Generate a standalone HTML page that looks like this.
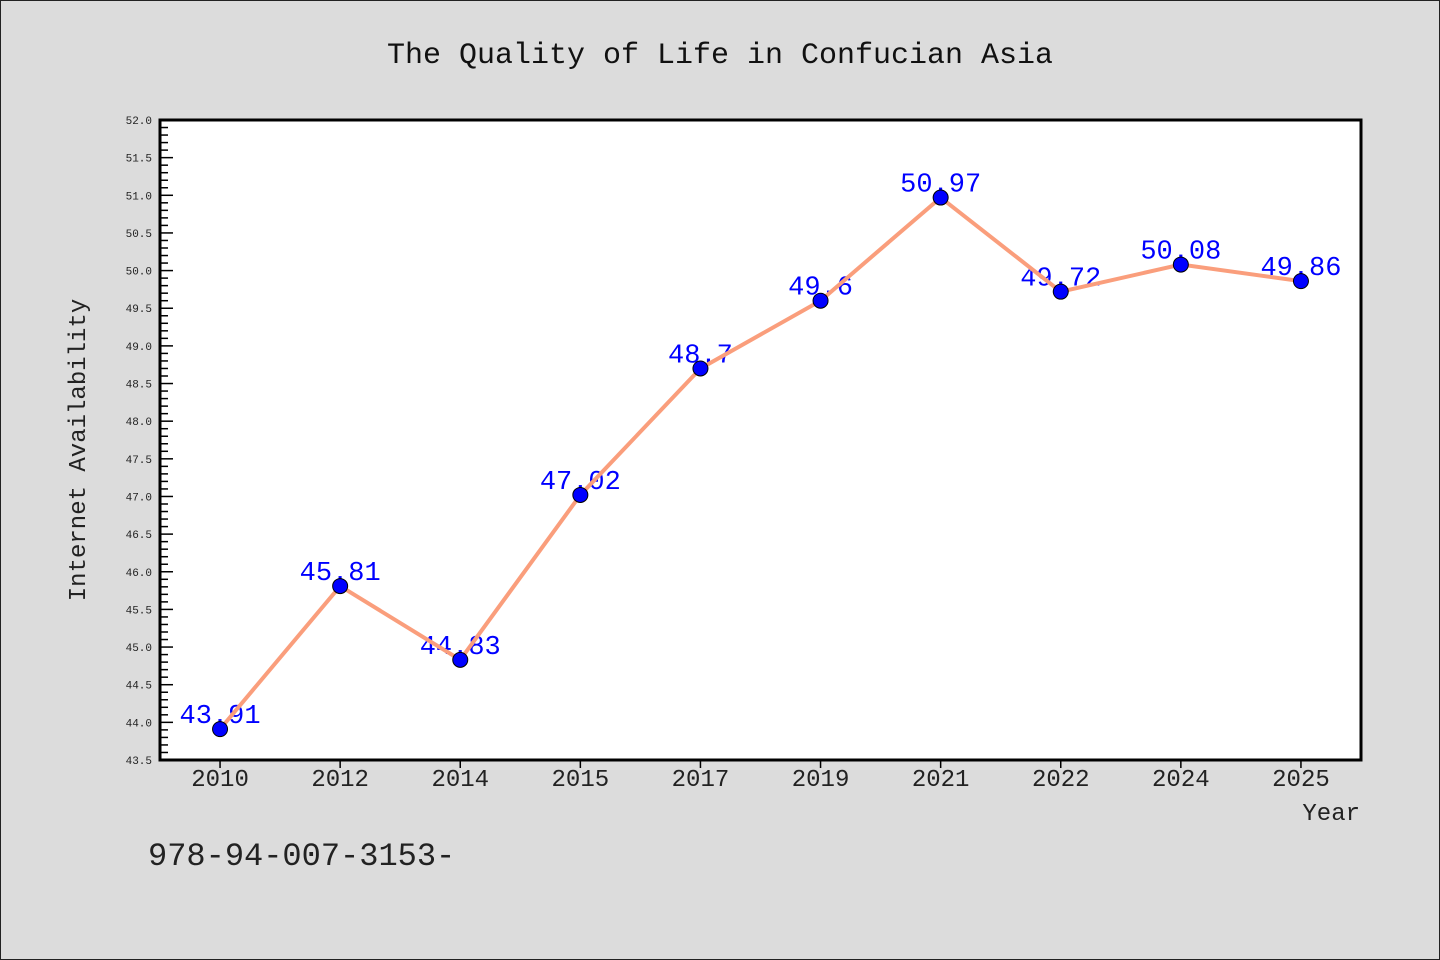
<!DOCTYPE html>
<html><head><meta charset="utf-8"><style>
body{margin:0;background:#dcdcdc}
svg{display:block}
text{font-family:"Liberation Mono","DejaVu Sans Mono",monospace}
</style></head><body>
<svg id="c" width="1440" height="960">
<rect x="0.5" y="0.5" width="1439" height="959" fill="#dcdcdc" stroke="#222"/>
<text x="720" y="63" text-anchor="middle" font-size="30" fill="#111">The Quality of Life in Confucian Asia</text>
<rect x="160" y="120" width="1201" height="640" fill="#fff"/>
<g id="yt"></g><g id="xt"></g><g id="lbl"></g><g id="ln"></g>
<rect x="160" y="120" width="1201" height="640" fill="none" stroke="#000" stroke-width="3"/>
<text transform="translate(85,450) rotate(-90)" text-anchor="middle" font-size="24" fill="#222">Internet Availability</text>
<text x="1360" y="820" text-anchor="end" font-size="24" fill="#222">Year</text>
<text x="148" y="865" font-size="32" fill="#222" font-family="Liberation Sans,sans-serif">978-94-007-3153-</text>
</svg>
<script>
const categories=["2010","2012","2014","2015","2017","2019","2021","2022","2024","2025"];
const values=[43.91,45.81,44.83,47.02,48.7,49.6,50.97,49.72,50.08,49.86];
const valueLabels=["43.91","45.81","44.83","47.02","48.7","49.6","50.97","49.72","50.08","49.86"];
const yMin=43.5,yMax=52.0;
const NS="http://www.w3.org/2000/svg";
const L=160,R=1361,T=120,B=760;
const x=i=>L+(R-L)/categories.length*(i+0.5);
const y=v=>B-(v-yMin)/(yMax-yMin)*(B-T);
function mk(t,a,p){const e=document.createElementNS(NS,t);for(const k in a)e.setAttribute(k,a[k]);p.appendChild(e);return e;}
const yt=document.getElementById('yt');
for(let k=0;k<=85;k++){const v=yMin+k*0.1;const yy=y(v);const major=k%5===0;
 const t=mk('line',{x1:L,x2:L+(major?13:8),y1:yy,y2:yy,stroke:'#000','stroke-width':1.5},yt);
 
 
 if(major){const tx=mk('text',{x:L-8,y:yy+4,'text-anchor':'end','font-size':11,fill:'#222','font-family':'DejaVu Sans,sans-serif'},yt);tx.textContent=v.toFixed(1);
 
 }}
const xt=document.getElementById('xt');
categories.forEach((c,i)=>{const t=mk('line',{x1:x(i),x2:x(i),y1:B,y2:B+8,stroke:'#000','stroke-width':1.5},xt);
 
 
 const tx=mk('text',{x:x(i),y:B+26,'text-anchor':'middle','font-size':24,fill:'#222','font-family':'Liberation Sans,sans-serif'},xt);tx.textContent=c;
 
 });
const lbl=document.getElementById('lbl');
values.forEach((v,i)=>{const tx=mk('text',{x:x(i),y:y(v)-6,'text-anchor':'middle','font-size':27,fill:'#0000ff','font-family':'Liberation Sans,sans-serif'},lbl);tx.textContent=valueLabels[i];
 
 });
const ln=document.getElementById('ln');
const pl=mk('polyline',{points:values.map((v,i)=>x(i)+','+y(v)).join(' '),fill:'none',stroke:'#fa9e7c','stroke-width':4},ln);


values.forEach((v,i)=>{const c=mk('circle',{cx:x(i),cy:y(v),r:7.5,fill:'#0000ff',stroke:'#000','stroke-width':1},ln);
 
 });
</script>
</body></html>
